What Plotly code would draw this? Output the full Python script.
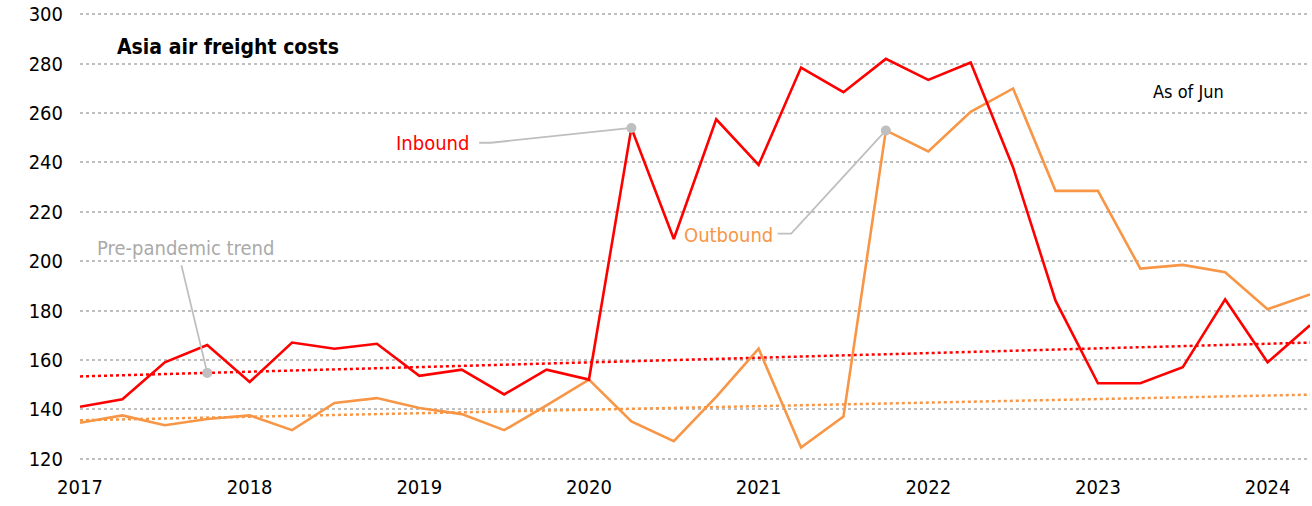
import plotly.graph_objects as go

# Quarterly periods (Q1 2017 .. Q2 2024), expressed as fractional years
quarters = [2017 + 0.25 * i for i in range(30)]

inbound = [141, 144, 159, 166, 151, 167, 164.5, 166.5, 153.5, 156, 146, 156,
           152, 254, 209, 257.5, 239, 278.5, 268.5, 282, 273.5, 280.5, 238, 184,
           150.5, 150.5, 157, 184.5, 159, 174]
outbound = [134.5, 137.5, 133.5, 136, 137.5, 131.5, 142.5, 144.5, 140.5, 138, 131.5, 141.5,
            152, 135, 127, 145, 164.5, 124.5, 137, 253, 244.5, 260.5, 270, 228.5,
            228.5, 197, 198.5, 195.5, 180.5, 186.5]

trend_x = [2017, 2024.25]
inbound_trend = [153.3, 167.0]
outbound_trend = [135.5, 145.9]

y_ticks = [120, 140, 160, 180, 200, 220, 240, 260, 280, 300]
x_ticks = [2017, 2018, 2019, 2020, 2021, 2022, 2023, 2024]
x_ticklabels = ["2017", "2018", "2019", "2020", "2021", "2022", "2023", "2024"]

RED = "#FF0000"
ORANGE = "#F79646"
GRAY = "#BFBFBF"
NARROW = "DejaVu Sans Condensed, Liberation Sans Narrow, sans-serif"

fig = go.Figure()

fig.add_trace(go.Scatter(x=trend_x, y=outbound_trend, mode="lines",
                         line=dict(color=ORANGE, width=2.5, dash="dot"), hoverinfo="skip"))
fig.add_trace(go.Scatter(x=trend_x, y=inbound_trend, mode="lines",
                         line=dict(color=RED, width=2.5, dash="dot"), hoverinfo="skip"))
fig.add_trace(go.Scatter(x=quarters, y=outbound, mode="lines",
                         line=dict(color=ORANGE, width=2.6)))
fig.add_trace(go.Scatter(x=quarters, y=inbound, mode="lines",
                         line=dict(color=RED, width=2.6)))

# Annotation connectors (data coordinates)
inb_pt = (quarters[13], inbound[13])
outb_pt = (quarters[19], outbound[19])
trend_pt_x = 2017.75
trend_pt_y = inbound_trend[0] + (inbound_trend[1] - inbound_trend[0]) * (trend_pt_x - trend_x[0]) / (trend_x[1] - trend_x[0])

connectors = [
    ([2019.353, 2019.422, inb_pt[0]], [248.0, 248.0, inb_pt[1]]),
    ([2021.112, 2021.192, outb_pt[0]], [211.2, 211.2, outb_pt[1]]),
    ([2017.598, trend_pt_x], [198.3, trend_pt_y]),
]
for cx, cy in connectors:
    fig.add_trace(go.Scatter(x=cx, y=cy, mode="lines", line=dict(color=GRAY, width=1.8),
                             hoverinfo="skip"))

fig.add_trace(go.Scatter(x=[inb_pt[0], outb_pt[0], trend_pt_x],
                         y=[inb_pt[1], outb_pt[1], trend_pt_y],
                         mode="markers", marker=dict(color=GRAY, size=10),
                         hoverinfo="skip"))

fig.add_annotation(x=2019.306, y=248.1, xref="x", yref="y", text="Inbound",
                   showarrow=False, xanchor="right", yanchor="middle",
                   font=dict(family=NARROW, size=20, color=RED))
fig.add_annotation(x=2020.547, y=210.5, xref="x", yref="y", text="Outbound",
                   showarrow=False, xanchor="left", yanchor="middle",
                   font=dict(family=NARROW, size=20, color=ORANGE))
fig.add_annotation(x=2017.088, y=205.5, xref="x", yref="y", text="Pre-pandemic trend",
                   showarrow=False, xanchor="left", yanchor="middle",
                   font=dict(family=NARROW, size=20, color="#AAAAAA"))

W, H = 1312, 506
L, R, T, B = 80, 2, 11.5, 45.2
pw, ph = W - L - R, H - T - B

def px_to_paper(px, py):
    return (px - L) / pw, (H - py - B) / ph

tx, ty = px_to_paper(115, 47)
fig.add_annotation(x=tx, y=ty, xref="paper", yref="paper", text="<b>Asia air freight costs</b>",
                   showarrow=False, xanchor="left", yanchor="middle",
                   font=dict(family=NARROW, size=21, color="#000000"))
ax, ay = px_to_paper(1188, 91)
fig.add_annotation(x=ax, y=ay, xref="paper", yref="paper", text="As of Jun",
                   showarrow=False, xanchor="center", yanchor="middle",
                   font=dict(family=NARROW, size=18, color="#000000"))

fig.update_layout(
    width=W, height=H,
    margin=dict(l=L, r=R, t=T, b=B),
    plot_bgcolor="white", paper_bgcolor="white",
    showlegend=False,
    xaxis=dict(range=[2017, 2024.25], tickvals=x_ticks, ticktext=x_ticklabels,
               showgrid=False, zeroline=False, showline=False,
               ticks="", ticklabelstandoff=12,
               tickfont=dict(family=NARROW, size=20, color="#000000")),
    yaxis=dict(range=[119.0, 301.0], tickvals=y_ticks,
               showgrid=True, gridcolor=GRAY, gridwidth=1.5, griddash="dot",
               zeroline=False, showline=False, ticks="", ticklabelstandoff=16,
               tickfont=dict(family=NARROW, size=20, color="#000000")),
)

fig.write_html("out.html", config={"displayModeBar": False},
               post_script="document.body.style.margin='0';document.body.style.overflow='hidden';")
